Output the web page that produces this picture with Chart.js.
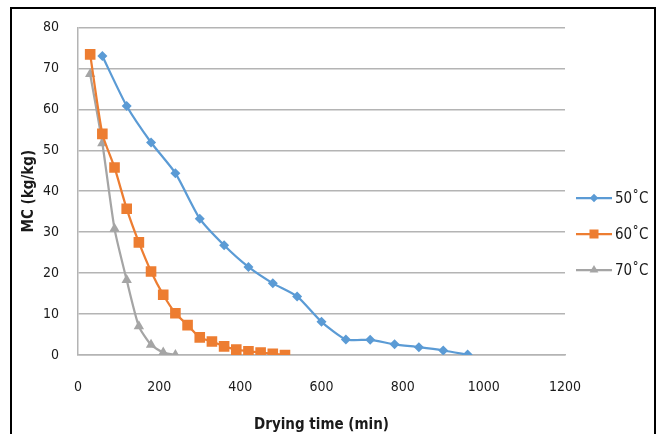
<!DOCTYPE html>
<html>
<head>
<meta charset="utf-8">
<script src="https://cdn.jsdelivr.net/npm/chart.js@4"></script>
<style>
  html, body { margin: 0; padding: 0; background: #fff; }
  #wrap { position: relative; width: 664px; height: 434px; }
  #frame { position: absolute; left: 10px; top: 7px; width: 646px; height: 440px;
           border: 2.5px solid #000; box-sizing: border-box; pointer-events: none; }
</style>
</head>
<body>
<div id="wrap">
  <canvas id="chart" width="664" height="434"></canvas>
  <div id="frame"></div>
</div>
<script>
// ---- data ----
const time50 = [60, 120, 180, 240, 300, 360, 420, 480, 540, 600, 660, 720, 780, 840, 900, 960];
const mc50   = [73, 60.8, 51.9, 44.4, 33.3, 26.8, 21.5, 17.5, 14.3, 8.1, 3.8, 3.7, 2.6, 1.9, 1.1, 0.1];

const time60 = [30, 60, 90, 120, 150, 180, 210, 240, 270, 300, 330, 360, 390, 420, 450, 480, 510];
const mc60   = [73.4, 54, 45.8, 35.7, 27.5, 20.4, 14.7, 10.2, 7.3, 4.3, 3.3, 2.1, 1.3, 0.9, 0.6, 0.3, 0];

const time70 = [30, 60, 90, 120, 150, 180, 210, 240];
const mc70   = [68.6, 51.7, 30.8, 18.3, 7, 2.5, 0.6, 0];

const seriesLabels = ['50˚C', '60˚C', '70˚C'];
const seriesColors = ['#5b9bd5', '#ed7d31', '#a5a5a5'];
const seriesMarkers = ['rectRot', 'rect', 'triangle'];
const xTicks = [0, 200, 400, 600, 800, 1000, 1200];
const yTicks = [0, 10, 20, 30, 40, 50, 60, 70, 80];

const FONT = "'DejaVu Sans Condensed', 'Liberation Sans', sans-serif";
const textColor = '#1a1a1a';
const gridColor = '#b4b4b4';

const pts = (xs, ys) => xs.map((x, i) => ({ x, y: ys[i] }));
const markerSize = [5, 7.5, 6];

const datasets = [pts(time50, mc50), pts(time60, mc60), pts(time70, mc70)].map((d, i) => ({
  label: seriesLabels[i],
  data: d,
  borderColor: seriesColors[i],
  backgroundColor: seriesColors[i],
  borderWidth: 2.25,
  tension: 0.2,
  pointStyle: seriesMarkers[i],
  pointRadius: markerSize[i],
  pointBorderWidth: 0,
}));

// legend drawn to the right of the plot: short line with the marker in the middle
const sideLegend = {
  id: 'sideLegend',
  afterDraw(chart) {
    const ctx = chart.ctx;
    chart.data.datasets.forEach((ds, i) => {
      const y = 198 + i * 36;
      const x0 = 576, x1 = 612;
      ctx.save();
      ctx.strokeStyle = ds.borderColor;
      ctx.lineWidth = 2.25;
      ctx.beginPath(); ctx.moveTo(x0, y); ctx.lineTo(x1, y); ctx.stroke();
      ctx.fillStyle = ds.backgroundColor;
      Chart.helpers.drawPoint(ctx, { pointStyle: ds.pointStyle, radius: ds.pointRadius * 0.85, borderWidth: 0, rotation: 0 },
        (x0 + x1) / 2, y);
      ctx.fillStyle = textColor;
      ctx.font = `15px ${FONT}`;
      ctx.textBaseline = 'middle';
      ctx.fillText(ds.label, 615, y + 1);
      ctx.restore();
    });
  }
};

new Chart(document.getElementById('chart'), {
  type: 'line',
  data: { datasets },
  options: {
    responsive: false, animation: false,
    layout: { padding: { left: 20, top: 22, right: 99, bottom: 0 } },
    scales: {
      x: {
        type: 'linear', min: 0, max: 1200,
        afterBuildTicks: s => { s.ticks = xTicks.map(v => ({ value: v })); },
        afterFit: s => { s.height = 79; },
        grid: { display: false, drawTicks: false },
        border: { display: true, color: gridColor, width: 1.5 },
        ticks: { color: textColor, font: { family: FONT, size: 14 }, padding: 24, maxRotation: 0,
                 callback: v => String(v) },
        title: { display: true, text: 'Drying time (min)', color: textColor,
                 font: { family: FONT, size: 15, weight: 'bold' }, padding: { top: 8, bottom: 0 } },
      },
      y: {
        min: 0, max: 80,
        afterBuildTicks: s => { s.ticks = yTicks.map(v => ({ value: v })); },
        afterFit: s => { s.width = 58; },
        grid: { color: gridColor, lineWidth: 1.5, drawTicks: false },
        border: { display: true, color: gridColor, width: 1.5 },
        ticks: { color: textColor, font: { family: FONT, size: 14 }, padding: 19, callback: v => String(v) },
        title: { display: true, text: 'MC (kg/kg)', color: textColor,
                 font: { family: FONT, size: 15, weight: 'bold' }, padding: { top: 0, bottom: 4 } },
      },
    },
    plugins: { legend: { display: false }, tooltip: { enabled: false } },
  },
  plugins: [sideLegend],
});
</script>
</body>
</html>
